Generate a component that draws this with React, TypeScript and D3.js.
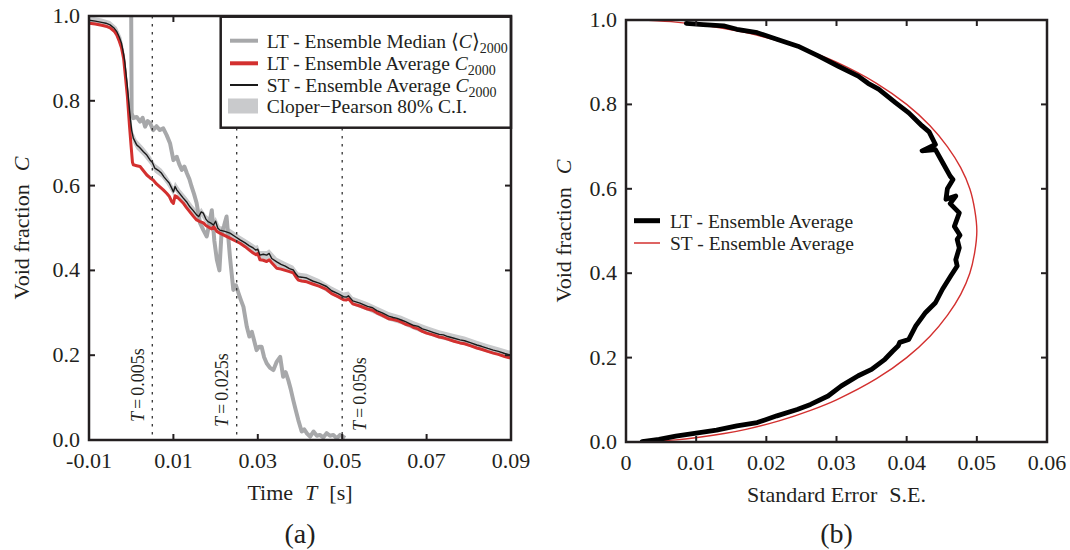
import React from 'react';
import * as d3 from 'd3';

// ---------- Panel (a) data ----------
// ST - Ensemble Average C2000 (black)
const stX = [-0.0100,-0.0085,-0.0070,-0.0060,-0.0050,-0.0040,-0.0034,-0.0028,-0.0023,-0.0018,-0.0015,-0.0009,-0.0004,0.0001,0.0005,0.0013,0.0020,0.0029,0.0037,0.0045,0.0050,0.0056,0.0064,0.0072,0.0078,0.0084,0.0090,0.0096,0.0100,0.0104,0.0108,0.0116,0.0123,0.0131,0.0139,0.0147,0.0155,0.0160,0.0166,0.0171,0.0177,0.0182,0.0188,0.0195,0.0200,0.0205,0.0210,0.0222,0.0234,0.0246,0.0258,0.0270,0.0280,0.0289,0.0295,0.0300,0.0305,0.0313,0.0321,0.0327,0.0333,0.0345,0.0355,0.0365,0.0375,0.0384,0.0390,0.0396,0.0404,0.0416,0.0430,0.0445,0.0463,0.0475,0.0490,0.0503,0.0510,0.0515,0.0525,0.0542,0.0560,0.0572,0.0582,0.0595,0.0610,0.0621,0.0630,0.0640,0.0650,0.0661,0.0670,0.0680,0.0690,0.0700,0.0715,0.0730,0.0740,0.0750,0.0765,0.0779,0.0790,0.0805,0.0819,0.0830,0.0845,0.0858,0.0870,0.0885,0.0900];
const stC = [0.990,0.988,0.985,0.983,0.979,0.971,0.963,0.950,0.936,0.910,0.890,0.833,0.778,0.731,0.712,0.696,0.690,0.680,0.672,0.660,0.655,0.641,0.636,0.629,0.620,0.613,0.606,0.594,0.585,0.598,0.590,0.580,0.571,0.562,0.550,0.541,0.531,0.527,0.538,0.535,0.521,0.515,0.512,0.507,0.516,0.500,0.495,0.492,0.488,0.480,0.472,0.465,0.458,0.453,0.448,0.450,0.436,0.438,0.436,0.440,0.428,0.420,0.414,0.410,0.404,0.401,0.392,0.385,0.384,0.382,0.375,0.370,0.362,0.352,0.345,0.338,0.337,0.340,0.328,0.323,0.315,0.312,0.305,0.300,0.292,0.289,0.287,0.283,0.279,0.274,0.270,0.268,0.262,0.259,0.254,0.249,0.248,0.244,0.240,0.236,0.234,0.229,0.224,0.221,0.216,0.212,0.209,0.204,0.200];

// LT - Ensemble Average C2000 (red)
const ltX = [-0.0100,-0.0085,-0.0070,-0.0060,-0.0050,-0.0040,-0.0034,-0.0028,-0.0023,-0.0018,-0.0015,-0.0009,-0.0004,0.0000,0.0003,0.0005,0.0013,0.0021,0.0029,0.0037,0.0045,0.0052,0.0060,0.0068,0.0076,0.0084,0.0090,0.0096,0.0100,0.0104,0.0108,0.0116,0.0123,0.0131,0.0139,0.0147,0.0155,0.0163,0.0171,0.0177,0.0182,0.0190,0.0196,0.0203,0.0210,0.0222,0.0234,0.0246,0.0258,0.0270,0.0280,0.0289,0.0296,0.0300,0.0305,0.0313,0.0321,0.0327,0.0333,0.0345,0.0355,0.0365,0.0375,0.0384,0.0390,0.0396,0.0404,0.0416,0.0430,0.0445,0.0463,0.0475,0.0490,0.0503,0.0510,0.0515,0.0525,0.0542,0.0560,0.0572,0.0582,0.0595,0.0610,0.0621,0.0630,0.0640,0.0650,0.0661,0.0670,0.0680,0.0690,0.0700,0.0715,0.0730,0.0740,0.0750,0.0765,0.0779,0.0790,0.0805,0.0819,0.0830,0.0845,0.0858,0.0870,0.0885,0.0900];
const ltC = [0.983,0.981,0.978,0.976,0.972,0.964,0.955,0.940,0.925,0.900,0.870,0.810,0.740,0.690,0.655,0.649,0.647,0.645,0.635,0.625,0.618,0.613,0.604,0.597,0.590,0.582,0.575,0.562,0.558,0.576,0.574,0.566,0.559,0.548,0.538,0.528,0.519,0.515,0.512,0.506,0.503,0.498,0.503,0.492,0.488,0.482,0.476,0.470,0.464,0.456,0.448,0.441,0.437,0.440,0.425,0.424,0.421,0.425,0.418,0.405,0.403,0.400,0.397,0.394,0.385,0.377,0.375,0.373,0.368,0.363,0.355,0.345,0.338,0.331,0.330,0.333,0.321,0.316,0.309,0.306,0.300,0.294,0.286,0.284,0.282,0.278,0.273,0.270,0.265,0.262,0.256,0.252,0.248,0.243,0.241,0.238,0.233,0.229,0.227,0.222,0.217,0.214,0.209,0.205,0.202,0.197,0.193];

// LT - Ensemble Median <C>2000 (grey)
const medX = [0.0000,0.0001,0.0005,0.0013,0.0021,0.0027,0.0033,0.0039,0.0045,0.0052,0.0060,0.0068,0.0076,0.0084,0.0092,0.0100,0.0108,0.0114,0.0120,0.0126,0.0132,0.0138,0.0143,0.0149,0.0155,0.0163,0.0171,0.0179,0.0185,0.0191,0.0197,0.0203,0.0209,0.0214,0.0220,0.0226,0.0234,0.0242,0.0248,0.0254,0.0260,0.0266,0.0274,0.0280,0.0286,0.0297,0.0303,0.0309,0.0315,0.0321,0.0329,0.0337,0.0345,0.0353,0.0360,0.0366,0.0372,0.0378,0.0384,0.0390,0.0396,0.0404,0.0410,0.0416,0.0424,0.0432,0.0440,0.0447,0.0455,0.0463,0.0471,0.0479,0.0487,0.0495,0.0507];
const medC = [1.000,0.771,0.759,0.762,0.751,0.760,0.739,0.752,0.747,0.731,0.740,0.731,0.735,0.719,0.700,0.660,0.668,0.650,0.637,0.645,0.629,0.615,0.598,0.580,0.559,0.512,0.495,0.480,0.510,0.542,0.470,0.425,0.400,0.488,0.505,0.527,0.432,0.354,0.365,0.347,0.330,0.314,0.267,0.244,0.255,0.212,0.220,0.220,0.195,0.181,0.170,0.165,0.185,0.196,0.149,0.160,0.142,0.120,0.094,0.070,0.047,0.020,0.025,0.016,0.008,0.020,0.010,0.012,0.006,0.016,0.010,0.012,0.004,0.012,0.005];

// Clopper-Pearson 80% C.I. band
const ciX = [-0.0100,-0.0070,-0.0050,-0.0034,-0.0023,-0.0015,-0.0009,-0.0004,0.0001,0.0005,0.0013,0.0029,0.0045,0.0056,0.0072,0.0084,0.0096,0.0100,0.0104,0.0116,0.0131,0.0147,0.0160,0.0166,0.0177,0.0195,0.0200,0.0210,0.0234,0.0258,0.0280,0.0295,0.0300,0.0305,0.0321,0.0327,0.0345,0.0365,0.0384,0.0396,0.0416,0.0445,0.0475,0.0503,0.0515,0.0525,0.0560,0.0582,0.0610,0.0640,0.0670,0.0700,0.0730,0.0765,0.0790,0.0819,0.0845,0.0870,0.0900];
const ciLo = [0.982,0.976,0.970,0.952,0.922,0.872,0.815,0.760,0.716,0.700,0.685,0.670,0.650,0.631,0.619,0.603,0.584,0.576,0.587,0.570,0.552,0.531,0.517,0.527,0.511,0.497,0.505,0.485,0.478,0.462,0.448,0.438,0.440,0.426,0.426,0.430,0.410,0.400,0.391,0.375,0.372,0.360,0.342,0.328,0.330,0.318,0.305,0.295,0.282,0.273,0.260,0.249,0.239,0.230,0.224,0.214,0.206,0.199,0.190];
const ciHi = [1.000,0.994,0.988,0.974,0.950,0.908,0.851,0.796,0.748,0.725,0.708,0.691,0.671,0.652,0.640,0.624,0.605,0.597,0.609,0.591,0.573,0.552,0.538,0.548,0.531,0.517,0.526,0.505,0.498,0.482,0.468,0.458,0.460,0.446,0.446,0.450,0.430,0.420,0.411,0.395,0.392,0.380,0.362,0.348,0.350,0.338,0.325,0.315,0.302,0.293,0.280,0.269,0.259,0.250,0.244,0.234,0.226,0.219,0.210];

const markerTimes = [0.005, 0.025, 0.05];
const markerLabels = ['0.005s', '0.025s', '0.050s'];

const xTicksA = [-0.01, 0.01, 0.03, 0.05, 0.07, 0.09];
const xTickLabelsA = ['-0.01', '0.01', '0.03', '0.05', '0.07', '0.09'];
const yTicks = [0, 0.2, 0.4, 0.6, 0.8, 1.0];
const yTickLabels = ['0.0', '0.2', '0.4', '0.6', '0.8', '1.0'];

// ---------- Panel (b) data ----------
// LT - Ensemble Average (black), standard error vs void fraction
const lbSE = [0.0086,0.0110,0.0139,0.0158,0.0187,0.0216,0.0245,0.0274,0.0302,0.0331,0.0345,0.0360,0.0384,0.0403,0.0422,0.0432,0.0441,0.0422,0.0441,0.0452,0.0462,0.0466,0.0458,0.0456,0.0470,0.0462,0.0475,0.0468,0.0476,0.0472,0.0475,0.0470,0.0472,0.0463,0.0451,0.0441,0.0427,0.0413,0.0403,0.0390,0.0388,0.0380,0.0369,0.0350,0.0331,0.0307,0.0288,0.0263,0.0244,0.0215,0.0187,0.0158,0.0129,0.0100,0.0071,0.0047,0.0023];
const lbC = [0.992,0.989,0.986,0.978,0.970,0.954,0.938,0.915,0.891,0.867,0.850,0.836,0.804,0.780,0.749,0.735,0.705,0.690,0.693,0.660,0.630,0.622,0.600,0.575,0.583,0.565,0.543,0.511,0.490,0.480,0.460,0.432,0.417,0.394,0.362,0.330,0.307,0.275,0.243,0.236,0.228,0.215,0.196,0.172,0.157,0.133,0.109,0.089,0.077,0.062,0.046,0.038,0.028,0.021,0.014,0.006,0.001];

// ST - Ensemble Average (red)
const sbC = [0.001,0.005,0.01,0.02,0.03,0.05,0.075,0.1,0.15,0.2,0.25,0.3,0.35,0.4,0.45,0.5,0.55,0.6,0.65,0.7,0.75,0.8,0.85,0.9,0.925,0.95,0.97,0.98,0.99,0.995,0.999];
const sbSE = [0.0032,0.0071,0.0099,0.0140,0.0171,0.0218,0.0263,0.0300,0.0357,0.0400,0.0433,0.0458,0.0477,0.0490,0.0497,0.0500,0.0497,0.0490,0.0477,0.0458,0.0433,0.0400,0.0357,0.0300,0.0263,0.0218,0.0171,0.0140,0.0099,0.0071,0.0032];

const xTicksB = [0, 0.01, 0.02, 0.03, 0.04, 0.05, 0.06];
const xTickLabelsB = ['0', '0.01', '0.02', '0.03', '0.04', '0.05', '0.06'];

const FONT = 'Liberation Serif';
const TS: React.CSSProperties = { fontFamily: FONT };
const INK = '#231f20';
const RED = '#d3302f';
const GREY = '#a7a8aa';
const CIGREY = '#c9cacc';
const TICKF = 22;
const TITLEF = 22;

type P = [number, number];
const zip = (a: number[], b: number[]): P[] => a.map((v, i) => [v, b[i]] as P);

export default function App() {
  const xA = d3.scaleLinear().domain([-0.01, 0.09]).range([89, 511]);
  const yA = d3.scaleLinear().domain([0, 1]).range([440, 16]);
  const xB = d3.scaleLinear().domain([0, 0.06]).range([626, 1047]);
  const yB = d3.scaleLinear().domain([0, 1]).range([442, 20]);

  const lineA = d3.line<P>().x(d => xA(d[0])).y(d => yA(d[1]));
  const areaA = d3
    .area<number>()
    .x((_, i) => xA(ciX[i]))
    .y0((_, i) => yA(ciLo[i]))
    .y1((_, i) => yA(ciHi[i]));
  const lineB = d3.line<P>().x(d => xB(d[0])).y(d => yB(d[1]));
  const lineBsmooth = d3
    .line<P>()
    .x(d => xB(d[0]))
    .y(d => yB(d[1]))
    .curve(d3.curveCatmullRom.alpha(0.5));

  const [aL, aR] = xA.range();
  const [aB, aT] = yA.range();
  const [bL, bR] = xB.range();
  const [bB, bT] = yB.range();
  const tk = 6;

  return (
    <svg
      width={1070}
      height={550}
      viewBox="0 0 1070 550"
      style={{ position: 'absolute', left: 0, top: 0, background: '#fff', fontFamily: FONT }}
    >
      <defs>
        <clipPath id="clipA">
          <rect x={aL} y={aT} width={aR - aL} height={aB - aT} />
        </clipPath>
        <clipPath id="clipB">
          <rect x={bL} y={bT} width={bR - bL} height={bB - bT} />
        </clipPath>
      </defs>
      <rect x={0} y={0} width={1070} height={550} fill="#fff" />

      {/* ===== Panel (a) ===== */}
      <g clipPath="url(#clipA)">
        <path d={areaA(ciX) || ''} fill={CIGREY} stroke="none" />
        <path d={lineA(zip(medX, medC)) || ''} fill="none" stroke={GREY} strokeWidth={4} strokeLinejoin="round" />
        <path d={lineA(zip(ltX, ltC)) || ''} fill="none" stroke={RED} strokeWidth={3} strokeLinejoin="round" />
        <path d={lineA(zip(stX, stC)) || ''} fill="none" stroke="#1a1a1a" strokeWidth={1.4} strokeLinejoin="round" />
        {markerTimes.map((t, i) => (
          <line key={i} x1={xA(t)} x2={xA(t)} y1={aT} y2={aB} stroke="#333" strokeWidth={1.3} strokeDasharray="2.5,5.5" />
        ))}
      </g>
      {markerTimes.map((t, i) => {
        const right = i === 2;
        const bx = right ? xA(t) + 24 : xA(t) - 8.5;
        const by = [422, 427, 431][i];
        return (
          <text key={i} style={TS} transform={`translate(${bx},${by}) rotate(-90)`} fontSize={18} fill={INK}>
            <tspan fontStyle="italic">T</tspan>
            <tspan dx={3}>=</tspan>
            <tspan dx={3}>{markerLabels[i]}</tspan>
          </text>
        );
      })}
      {/* ticks */}
      {xTicksA.map((t, i) => (
        <g key={i}>
          <line x1={xA(t)} x2={xA(t)} y1={aB} y2={aB - tk} stroke={INK} strokeWidth={2} />
          <line x1={xA(t)} x2={xA(t)} y1={aT} y2={aT + tk} stroke={INK} strokeWidth={2} />
          <text style={TS} x={xA(t)} y={aB + 28} fontSize={TICKF} textAnchor="middle" fill={INK}>{xTickLabelsA[i]}</text>
        </g>
      ))}
      {yTicks.map((t, i) => (
        <g key={i}>
          <line x1={aL} x2={aL + tk} y1={yA(t)} y2={yA(t)} stroke={INK} strokeWidth={2} />
          <line x1={aR} x2={aR - tk} y1={yA(t)} y2={yA(t)} stroke={INK} strokeWidth={2} />
          <text style={TS} x={aL - 9} y={yA(t) + 7} fontSize={TICKF} textAnchor="end" fill={INK}>{yTickLabels[i]}</text>
        </g>
      ))}
      {/* legend (a) */}
      <g>
        <rect x={220.7} y={16.7} width={aR - 220.7} height={111} fill="#fff" stroke={INK} strokeWidth={2.5} />
        <line x1={230} x2={258} y1={40.7} y2={40.7} stroke={GREY} strokeWidth={4} />
        <line x1={230} x2={258} y1={63.3} y2={63.3} stroke={RED} strokeWidth={4} />
        <line x1={230} x2={258} y1={85} y2={85} stroke="#1a1a1a" strokeWidth={2} />
        <rect x={228} y={98.5} width={30} height={15} fill={CIGREY} />
        <text style={TS} x={266.7} y={47.5} fontSize={19.5} fill={INK}>
          LT - Ensemble Median ⟨<tspan fontStyle="italic">C</tspan>⟩<tspan fontSize={14} dy={5}>2000</tspan>
        </text>
        <text style={TS} x={266.7} y={70} fontSize={19.5} fill={INK}>
          LT - Ensemble Average <tspan fontStyle="italic">C</tspan><tspan fontSize={14} dy={5}>2000</tspan>
        </text>
        <text style={TS} x={266.7} y={91.8} fontSize={19.5} fill={INK}>
          ST - Ensemble Average <tspan fontStyle="italic">C</tspan><tspan fontSize={14} dy={5}>2000</tspan>
        </text>
        <text style={TS} x={266.7} y={112.8} fontSize={19.5} fill={INK}>
          Cloper−Pearson 80% C.I.
        </text>
      </g>
      <rect x={aL} y={aT} width={aR - aL} height={aB - aT} fill="none" stroke={INK} strokeWidth={2.5} />
      {/* axis titles (a) */}
      <text style={TS} x={(aL + aR) / 2} y={aB + 60} fontSize={TITLEF} textAnchor="middle" fill={INK}>
        Time<tspan dx={12} fontStyle="italic">T</tspan><tspan dx={12}>[s]</tspan>
      </text>
      <text style={TS} transform={`translate(29,${(aT + aB) / 2}) rotate(-90)`} fontSize={TITLEF} textAnchor="middle" fill={INK}>
        Void fraction<tspan dx={13} fontStyle="italic">C</tspan>
      </text>
      <text style={TS} x={(aL + aR) / 2} y={543} fontSize={28} textAnchor="middle" fill={INK}>(a)</text>

      {/* ===== Panel (b) ===== */}
      <g clipPath="url(#clipB)">
        <path d={lineBsmooth(zip(sbSE, sbC)) || ''} fill="none" stroke={RED} strokeWidth={1.4} />
        <path d={lineB(zip(lbSE, lbC)) || ''} fill="none" stroke="#000" strokeWidth={4.8} strokeLinejoin="round" strokeLinecap="round" />
      </g>
      {xTicksB.map((t, i) => (
        <g key={i}>
          <line x1={xB(t)} x2={xB(t)} y1={bB} y2={bB - tk} stroke={INK} strokeWidth={2} />
          <line x1={xB(t)} x2={xB(t)} y1={bT} y2={bT + tk} stroke={INK} strokeWidth={2} />
          <text style={TS} x={xB(t)} y={bB + 28} fontSize={TICKF} textAnchor="middle" fill={INK}>{xTickLabelsB[i]}</text>
        </g>
      ))}
      {yTicks.map((t, i) => (
        <g key={i}>
          <line x1={bL} x2={bL + tk} y1={yB(t)} y2={yB(t)} stroke={INK} strokeWidth={2} />
          <line x1={bR} x2={bR - tk} y1={yB(t)} y2={yB(t)} stroke={INK} strokeWidth={2} />
          <text style={TS} x={bL - 9} y={yB(t) + 7} fontSize={TICKF} textAnchor="end" fill={INK}>{yTickLabels[i]}</text>
        </g>
      ))}
      <rect x={bL} y={bT} width={bR - bL} height={bB - bT} fill="none" stroke={INK} strokeWidth={2.5} />
      {/* legend (b) */}
      <line x1={634} x2={660} y1={220.7} y2={220.7} stroke="#000" strokeWidth={5} />
      <line x1={634} x2={660} y1={243} y2={243} stroke={RED} strokeWidth={1.5} />
      <text style={TS} x={670} y={227.5} fontSize={19.5} fill={INK}>LT - Ensemble Average</text>
      <text style={TS} x={670} y={249.8} fontSize={19.5} fill={INK}>ST - Ensemble Average</text>
      {/* axis titles (b) */}
      <text style={TS} x={(bL + bR) / 2} y={bB + 60} fontSize={TITLEF} textAnchor="middle" fill={INK}>
        Standard Error<tspan dx={12}>S.E.</tspan>
      </text>
      <text style={TS} transform={`translate(571,${(bT + bB) / 2}) rotate(-90)`} fontSize={TITLEF} textAnchor="middle" fill={INK}>
        Void fraction<tspan dx={13} fontStyle="italic">C</tspan>
      </text>
      <text style={TS} x={(bL + bR) / 2} y={543} fontSize={28} textAnchor="middle" fill={INK}>(b)</text>
    </svg>
  );
}
